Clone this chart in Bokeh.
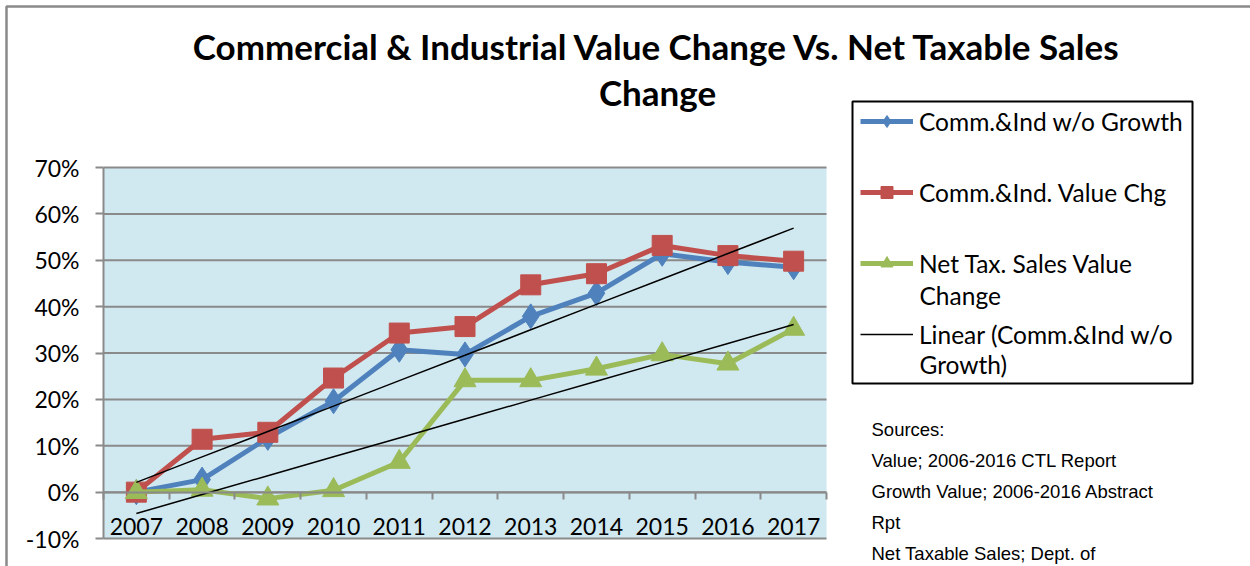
import numpy as np
from bokeh.plotting import figure
from bokeh.models import FixedTicker, PrintfTickFormatter, Legend, LegendItem, Label, BoxAnnotation
from bokeh.embed import file_html
from bokeh.resources import INLINE

# ---------------- data ----------------
years = ["2007", "2008", "2009", "2010", "2011", "2012", "2013", "2014", "2015", "2016", "2017"]
comm_ind_wo_growth = [0.0, 2.7, 11.7, 19.6, 30.7, 29.7, 37.9, 42.9, 51.4, 49.6, 48.5]
comm_ind_value_chg = [0.0, 11.4, 12.9, 24.6, 34.3, 35.7, 44.7, 47.1, 53.2, 51.0, 49.8]
net_tax_sales_chg = [0.0, 0.5, -1.4, 0.4, 6.5, 24.1, 24.1, 26.6, 29.7, 27.7, 35.2]
y_ticks = [-10, 0, 10, 20, 30, 40, 50, 60, 70]
title_lines = ["Commercial & Industrial Value Change Vs. Net Taxable Sales", "Change"]
legend_labels = ["Comm.&Ind w/o Growth", "Comm.&Ind. Value Chg",
                 "Net Tax. Sales Value", "Linear (Comm.&Ind w/o"]
legend_second_lines = ["Change", "Growth)"]
source_lines = ["Sources:", "Value; 2006-2016 CTL Report",
                "Growth Value; 2006-2016  Abstract", "Rpt", "Net Taxable Sales; Dept. of"]

xi = list(range(len(years)))

# ---------------- layout (page pixels) ----------------
W, H = 1250, 566
PL, PR, PT, PB = 103, 826, 167, 538          # plot area in pixels
XMIN, XMAX, YMIN, YMAX = -0.5, len(years) - 0.5, -10, 70
kx = (XMAX - XMIN) / (PR - PL)
ky = (YMAX - YMIN) / (PB - PT)

def X(px):
    return XMIN + (px - PL) * kx

def Y(py):
    return YMAX - (py - PT) * ky

p = figure(width=W, height=H, output_backend="svg", toolbar_location=None,
           x_range=(X(0), X(W)), y_range=(Y(H), Y(0)),
           min_border=0)
p.background_fill_color = "white"
p.border_fill_color = "white"
p.outline_line_color = None
p.xgrid.grid_line_color = None
p.ygrid.grid_line_color = None

GRID = "#8a8a8a"
FONT = "Lato"

# outer chart border (top & left visible)
p.add_layout(BoxAnnotation(left=X(6), right=X(W + 20), top=Y(6), bottom=Y(H + 20),
                           fill_color=None, line_color=GRID, line_alpha=1, line_width=2.5,
                           level="underlay"))
# plot area
p.add_layout(BoxAnnotation(left=XMIN, right=XMAX, bottom=YMIN, top=YMAX,
                           fill_color="#d0e8ef", fill_alpha=1, line_color=None, level="underlay"))

# horizontal gridlines
p.segment(x0=[XMIN] * len(y_ticks), x1=[XMAX] * len(y_ticks), y0=y_ticks, y1=y_ticks,
          line_color=GRID, line_width=2)

# y axis
p.yaxis.fixed_location = XMIN
p.yaxis.bounds = (YMIN, YMAX)
p.yaxis.ticker = FixedTicker(ticks=y_ticks)
p.yaxis.formatter = PrintfTickFormatter(format="%d%%")
p.yaxis.axis_line_color = GRID
p.yaxis.axis_line_width = 2
p.yaxis.major_tick_line_color = GRID
p.yaxis.major_tick_line_width = 2
p.yaxis.major_tick_out = 8
p.yaxis.major_tick_in = 0
p.yaxis.minor_tick_line_color = None
p.yaxis.major_label_text_font = FONT
p.yaxis.major_label_text_font_size = "23px"
p.yaxis.major_label_text_color = "black"
p.yaxis.major_label_standoff = 16

# x axis (category labels) crossing at 0
p.xaxis.fixed_location = 0
p.xaxis.bounds = (XMIN, XMAX)
p.xaxis.ticker = FixedTicker(ticks=xi, minor_ticks=[i - 0.5 for i in range(len(years) + 1)])
p.xaxis.major_label_overrides = {i: y for i, y in enumerate(years)}
p.xaxis.axis_line_color = GRID
p.xaxis.axis_line_width = 2
p.xaxis.major_tick_line_color = None
p.xaxis.major_tick_out = 0
p.xaxis.major_tick_in = 0
p.xaxis.minor_tick_line_color = GRID
p.xaxis.minor_tick_line_width = 2
p.xaxis.minor_tick_out = 7
p.xaxis.minor_tick_in = 0
p.xaxis.major_label_text_font = FONT
p.xaxis.major_label_text_font_size = "23px"
p.xaxis.major_label_text_color = "black"
p.xaxis.major_label_standoff = 19

BLUE, RED, GREEN = "#4f81bd", "#c0504d", "#9bbb59"
LW = 5

bl = p.line(xi, comm_ind_wo_growth, line_color=BLUE, line_width=LW)
bm = p.scatter(xi, comm_ind_wo_growth, marker="diamond", size=25, fill_color=BLUE, line_color=BLUE)
rl = p.line(xi, comm_ind_value_chg, line_color=RED, line_width=LW)
rm = p.scatter(xi, comm_ind_value_chg, marker="square", size=20, fill_color=RED, line_color=RED)
gl = p.line(xi, net_tax_sales_chg, line_color=GREEN, line_width=LW)
gm = p.scatter(xi, net_tax_sales_chg, marker="triangle", size=22, fill_color=GREEN, line_color=GREEN)

# linear trend lines (least squares fit)
xa = np.array(xi, dtype=float)
b1 = np.polyfit(xa, np.array(comm_ind_wo_growth), 1)
b2 = np.polyfit(xa, np.array(net_tax_sales_chg), 1)
t1 = p.line(xa, np.polyval(b1, xa), line_color="black", line_width=1.5)
t2 = p.line(xa, np.polyval(b2, xa), line_color="black", line_width=1.5)

# legend box
p.add_layout(BoxAnnotation(left=X(852), right=X(1192), top=Y(101), bottom=Y(383),
                           fill_color="white", fill_alpha=1, line_color="black",
                           line_alpha=1, line_width=2))

# legend rows (centres at 121, 192, 262, 333 px)
ITEM_H, SPACING = 30, 41
legend_bottom = 121 - ITEM_H / 2 + 4 * ITEM_H + 3 * SPACING
legend = Legend(items=[
    LegendItem(label=legend_labels[0], renderers=[bl, bm]),
    LegendItem(label=legend_labels[1], renderers=[rl, rm]),
    LegendItem(label=legend_labels[2], renderers=[gl, gm]),
    LegendItem(label=legend_labels[3], renderers=[t1]),
], location=(860, H - legend_bottom))
legend.border_line_color = None
legend.background_fill_alpha = 0
legend.padding = 0
legend.margin = 0
legend.glyph_width = 53
legend.glyph_height = ITEM_H
legend.label_standoff = 6
legend.label_height = ITEM_H
legend.spacing = SPACING
legend.label_text_font = FONT
legend.label_text_font_size = "24.5px"
legend.label_text_color = "black"
p.add_layout(legend, "center")

for line, ly in zip(legend_second_lines, [295, 364]):
    p.add_layout(Label(x=X(919), y=Y(ly), text=line, text_align="left",
                       text_baseline="middle", text_font=FONT,
                       text_font_size="24.5px", text_color="black"))

# title
for line, ty in zip(title_lines, [45, 91]):
    p.add_layout(Label(x=X(657), y=Y(ty), text=line, text_align="center",
                       text_baseline="middle", text_font=FONT, text_font_style="bold",
                       text_font_size="35px", text_color="black"))

# sources
for line, sy in zip(source_lines, [429, 460, 491, 522, 553]):
    p.add_layout(Label(x=X(871), y=Y(sy), text=line, text_align="left",
                       text_baseline="middle", text_font="Liberation Sans",
                       text_font_size="18.5px", text_color="black"))

open("out.html", "w").write(file_html(p, INLINE))
